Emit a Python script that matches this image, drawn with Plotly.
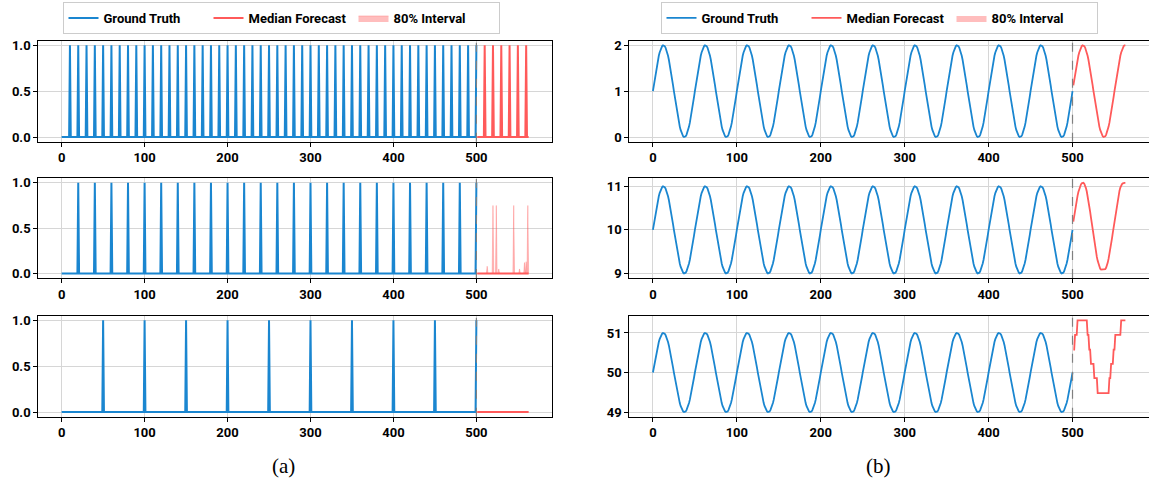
import plotly.graph_objects as go

# ---------------- data ----------------
hist_end = 500
fc_end = 563
x_ticks = [0, 100, 200, 300, 400, 500]

# (a) spike series: positions of the unit spikes
a1_gt_spikes = [10, 20, 30, 40, 50, 60, 70, 80, 90, 100, 110, 120, 130, 140, 150, 160, 170, 180, 190, 200,
                210, 220, 230, 240, 250, 260, 270, 280, 290, 300, 310, 320, 330, 340, 350, 360, 370, 380, 390, 400,
                410, 420, 430, 440, 450, 460, 470, 480, 490, 500]
a1_fc_spikes = [510, 520, 530, 540, 550, 560]
a2_gt_spikes = [20, 40, 60, 80, 100, 120, 140, 160, 180, 200, 220, 240, 260, 280, 300, 320, 340, 360, 380, 400,
                420, 440, 460, 480, 500]
a2_fc_spikes = []
a2_band_t = [513, 520, 524, 527, 545, 552, 558, 560, 562]
a2_band_hi = [0.08, 0.75, 0.75, 0.05, 0.75, 0.05, 0.12, 0.13, 0.75]
a3_gt_spikes = [50, 100, 150, 200, 250, 300, 350, 400, 450, 500]
a3_fc_spikes = []

# (b) sine series: one period (50 steps) of the wave, and the level of each panel
wave_cycle = [0.000, 0.125, 0.249, 0.368, 0.482, 0.588, 0.685, 0.771, 0.844, 0.905,
              0.951, 0.982, 0.998, 0.998, 0.982, 0.951, 0.905, 0.844, 0.771, 0.685,
              0.588, 0.482, 0.368, 0.249, 0.125, 0.000, -0.125, -0.249, -0.368, -0.482,
              -0.588, -0.685, -0.771, -0.844, -0.905, -0.951, -0.982, -0.998, -0.998, -0.982,
              -0.951, -0.905, -0.844, -0.771, -0.685, -0.588, -0.482, -0.368, -0.249, -0.125]
b_levels = [1, 10, 50]

b1_fc = [1.125, 1.249, 1.368, 1.482, 1.588, 1.685, 1.771, 1.844, 1.905, 1.951,
         1.982, 1.998, 1.998, 1.982, 1.951, 1.905, 1.844, 1.771, 1.685, 1.588,
         1.482, 1.368, 1.249, 1.125, 1.000, 0.875, 0.751, 0.632, 0.518, 0.412,
         0.315, 0.229, 0.156, 0.095, 0.049, 0.018, 0.002, 0.002, 0.018, 0.049,
         0.095, 0.156, 0.229, 0.315, 0.412, 0.518, 0.632, 0.751, 0.875, 1.000,
         1.125, 1.249, 1.368, 1.482, 1.588, 1.685, 1.771, 1.844, 1.905, 1.951,
         1.982, 1.998, 1.998]
b2_fc = [10.19, 10.33, 10.45, 10.57, 10.68, 10.78, 10.87, 10.94, 11.00, 11.04,
         11.07, 11.08, 11.08, 11.06, 11.02, 10.96, 10.88, 10.78, 10.66, 10.54,
         10.42, 10.28, 10.14, 10.00, 9.86, 9.73, 9.60, 9.48, 9.38, 9.29,
         9.21, 9.15, 9.11, 9.09, 9.09, 9.09, 9.09, 9.09, 9.10, 9.13,
         9.18, 9.25, 9.34, 9.44, 9.55, 9.67, 9.80, 9.93, 10.06, 10.19,
         10.32, 10.45, 10.58, 10.70, 10.81, 10.90, 10.97, 11.02, 11.05, 11.07,
         11.08, 11.08, 11.08]
b3_fc = [50.58, 50.58, 50.95, 50.95, 50.95, 51.32, 51.32, 51.32, 51.32, 51.32,
         51.32, 51.32, 51.32, 51.32, 51.32, 51.32, 51.32, 50.95, 50.95, 50.58,
         50.58, 50.22, 50.22, 50.22, 50.22, 49.86, 49.86, 49.86, 49.86, 49.48,
         49.48, 49.48, 49.48, 49.48, 49.48, 49.48, 49.48, 49.48, 49.48, 49.48,
         49.48, 49.48, 49.48, 49.86, 49.86, 50.22, 50.22, 50.22, 50.58, 50.58,
         50.95, 50.95, 50.95, 50.95, 50.95, 50.95, 50.95, 51.32, 51.32, 51.32,
         51.32, 51.32, 51.32]

# ---------------- build series ----------------
t_hist = list(range(0, hist_end + 1))
t_fc = list(range(hist_end + 1, fc_end + 1))


def spikes(ts, pos):
    s = set(pos)
    return [1.0 if t in s else 0.0 for t in ts]


BLUE = "#1a86d0"
RED = "#ff5a5a"
BAND = "rgba(255,90,90,0.4)"
FONT = "Roboto"

fig = go.Figure()

# pixel geometry -> paper fractions
W, H = 1149, 480
left_dom = [38.3 / W, 552.0 / W]
right_dom = [629.3 / W, 1.0]
rows_px = [(40.7, 141.7), (178.3, 278.0), (315.7, 416.7)]
y_doms = [[1 - b / H, 1 - t / H] for (t, b) in rows_px]

a_gt = [a1_gt_spikes, a2_gt_spikes, a3_gt_spikes]
a_fc = [a1_fc_spikes, a2_fc_spikes, a3_fc_spikes]
b_fc = [b1_fc, b2_fc, b3_fc]

for i in range(3):
    ax = "" if i == 0 else str(i + 1)
    xa, ya = "x" + ax, "y" + ax
    fig.add_trace(go.Scatter(x=t_hist, y=spikes(t_hist, a_gt[i]), mode="lines",
                             line=dict(color=BLUE, width=2), name="Ground Truth",
                             showlegend=(i == 0), legend="legend", legendrank=1,
                             xaxis=xa, yaxis=ya))
    if i == 1:
        band_lo = [0.0 for _ in t_fc]
        hi_map = dict(zip(a2_band_t, a2_band_hi))
        band_hi = [hi_map.get(t, 0.0) for t in t_fc]
        fig.add_trace(go.Scatter(x=t_fc, y=band_lo, mode="lines", line=dict(width=0, color=BAND),
                                 showlegend=False, hoverinfo="skip", xaxis=xa, yaxis=ya))
        fig.add_trace(go.Scatter(x=t_fc, y=band_hi, mode="lines", fill="tonexty", fillcolor=BAND,
                                 line=dict(width=0.8, color=BAND), name="80% Interval",
                                 showlegend=True, legend="legend", legendrank=3,
                                 xaxis=xa, yaxis=ya))
    fig.add_trace(go.Scatter(x=t_fc, y=spikes(t_fc, a_fc[i]), mode="lines",
                             line=dict(color=RED, width=2), name="Median Forecast",
                             showlegend=(i == 0), legend="legend", legendrank=2,
                             xaxis=xa, yaxis=ya))

for i in range(3):
    n = i + 4
    xa, ya = "x" + str(n), "y" + str(n)
    gt = [b_levels[i] + wave_cycle[t % len(wave_cycle)] for t in t_hist]
    fig.add_trace(go.Scatter(x=t_hist, y=gt, mode="lines",
                             line=dict(color=BLUE, width=1.8), name="Ground Truth",
                             showlegend=(i == 0), legend="legend2", legendrank=1,
                             xaxis=xa, yaxis=ya))
    fig.add_trace(go.Scatter(x=t_fc, y=b_fc[i], mode="lines",
                             line=dict(color=RED, width=1.8), name="Median Forecast",
                             showlegend=(i == 0), legend="legend2", legendrank=2,
                             xaxis=xa, yaxis=ya))

# legend-only entry for the interval on the right legend
fig.add_trace(go.Scatter(x=[None], y=[None], mode="lines", fill="toself", fillcolor=BAND,
                         line=dict(width=0, color=BAND), name="80% Interval",
                         showlegend=True, legend="legend2", legendrank=3,
                         xaxis="x4", yaxis="y4"))

tickfont = dict(family=FONT, size=13, color="black", weight="bold")
span = fc_end - 0
xr = [-0.05 * span, fc_end + 0.05 * span]
axis_common = dict(showline=True, linecolor="black", linewidth=1.2, mirror=True,
                   ticks="outside", ticklen=4, tickcolor="black", tickwidth=1,
                   showgrid=True, gridcolor="#d6d6d6", gridwidth=1, zeroline=False,
                   tickfont=tickfont, automargin=False)

y_ranges = [[-0.05, 1.05], [-0.05, 1.05], [-0.05, 1.05],
            [-0.1, 2.1], [8.896, 11.184], [48.884, 51.436]]
y_ticks = [[0, 0.5, 1], [0, 0.5, 1], [0, 0.5, 1], [0, 1, 2], [9, 10, 11], [49, 50, 51]]

layout = {}
for k in range(6):
    n = k + 1
    sx = "xaxis" if n == 1 else "xaxis" + str(n)
    sy = "yaxis" if n == 1 else "yaxis" + str(n)
    anchor_x = "x" if n == 1 else "x" + str(n)
    anchor_y = "y" if n == 1 else "y" + str(n)
    dom_x = left_dom if k < 3 else right_dom
    dom_y = y_doms[k % 3]
    layout[sx] = dict(domain=dom_x, range=xr, tickvals=x_ticks, anchor=anchor_y, **axis_common)
    layout[sy] = dict(domain=dom_y, range=y_ranges[k], tickvals=y_ticks[k], anchor=anchor_x,
                      tickformat=".1f" if k < 3 else "d", **axis_common)
    fig.add_shape(type="line", xref=anchor_x, yref=anchor_y + " domain", x0=hist_end, x1=hist_end,
                  y0=0, y1=1, line=dict(color="#808080", width=1.2, dash="dash"), layer="above")

legend_common = dict(orientation="h", bgcolor="white", bordercolor="#cccccc", borderwidth=1,
                     font=dict(family=FONT, size=13, color="black", weight="bold"),
                     itemwidth=30, entrywidth=100, yanchor="middle", xanchor="center",
                     tracegroupgap=0, traceorder="normal")

fig.update_layout(
    width=W, height=H,
    margin=dict(l=0, r=0, t=0, b=0),
    paper_bgcolor="white", plot_bgcolor="white",
    legend=dict(x=281 / W, y=1 - 18 / H, **legend_common),
    legend2=dict(x=879 / W, y=1 - 18 / H, **legend_common),
    **layout,
)

for label, cx in [("(a)", 283), ("(b)", 878)]:
    fig.add_annotation(text=label, x=cx / W, y=1 - 466 / H, xref="paper", yref="paper",
                       xanchor="center", yanchor="middle", showarrow=False,
                       font=dict(family="Liberation Serif", size=21, color="black"))

fig.write_html("out.html", config={"displayModeBar": False},
               post_script="document.body.style.margin='0px';")
